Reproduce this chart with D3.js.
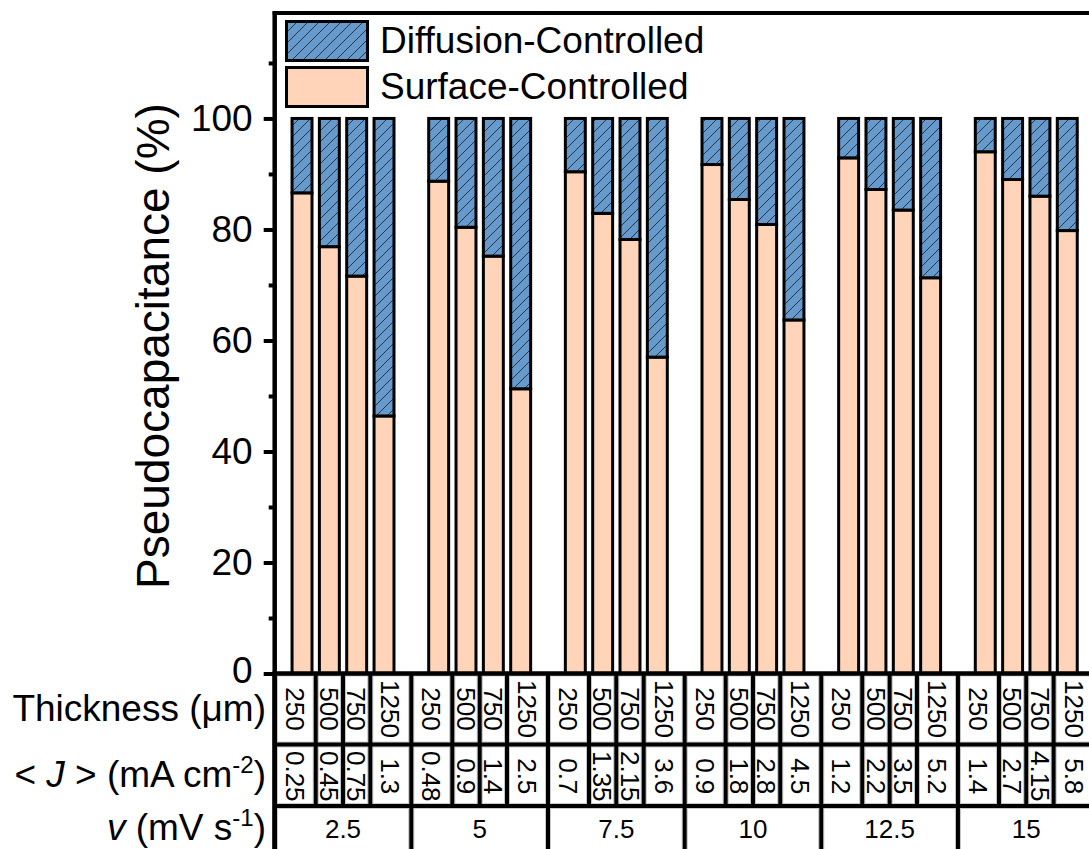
<!DOCTYPE html>
<html>
<head>
<meta charset="utf-8">
<script src="https://cdn.jsdelivr.net/npm/d3@7/dist/d3.min.js"></script>
<style>
  html, body { margin: 0; padding: 0; background: #fff; }
  svg { display: block; font-family: "Liberation Sans", Arial, sans-serif; }
</style>
</head>
<body>
<svg id="chart" width="1089" height="849"></svg>
<script>
// Scan rates (mV/s), one group of bars per rate
const rates = ["2.5", "5", "7.5", "10", "12.5", "15"];
// Electrode thickness (µm), one bar per thickness within each group
const thickness = ["250", "500", "750", "1250"];
// Average current density <J> (mA cm-2) for every bar
const currents = [
  ["0.25", "0.45", "0.75", "1.3"],
  ["0.48", "0.9", "1.4", "2.5"],
  ["0.7", "1.35", "2.15", "3.6"],
  ["0.9", "1.8", "2.8", "4.5"],
  ["1.2", "2.2", "3.5", "5.2"],
  ["1.4", "2.7", "4.15", "5.8"]
];
// Surface-controlled share (%)
const surface = [
  [86.6, 76.9, 71.6, 46.4],
  [88.7, 80.4, 75.2, 51.3],
  [90.4, 82.9, 78.2, 57.0],
  [91.7, 85.4, 80.9, 63.7],
  [92.9, 87.2, 83.5, 71.3],
  [94.0, 89.0, 86.0, 79.8]
];
// Diffusion-controlled share (%)
const diffusion = [
  [13.4, 23.1, 28.4, 53.6],
  [11.3, 19.6, 24.8, 48.7],
  [9.6, 17.1, 21.8, 43.0],
  [8.3, 14.6, 19.1, 36.3],
  [7.1, 12.8, 16.5, 28.7],
  [6.0, 11.0, 14.0, 20.2]
];
const yMajor = [0, 20, 40, 60, 80, 100];
const yMinor = [10, 30, 50, 70, 90, 110];
const seriesNames = ["Diffusion-Controlled", "Surface-Controlled"];

const BLUE = "#6699cc", PEACH = "#ffd4b8";
const svg = d3.select("#chart");

const x = d3.scaleLinear().domain([0, 30]).range([274.7, 1094.6]);
const y = d3.scaleLinear().domain([0, 119]).range([673.5, 13]);

// hatch for the diffusion part
const defs = svg.append("defs");
const pat = defs.append("pattern")
  .attr("id", "hatch").attr("patternUnits", "userSpaceOnUse")
  .attr("width", 11).attr("height", 11);
pat.append("rect").attr("width", 11).attr("height", 11).attr("fill", BLUE);
pat.append("path")
  .attr("d", "M-1,1 L1,-1 M0,11 L11,0 M10,12 L12,10")
  .attr("stroke", "#1a1a1a").attr("stroke-width", 0.8);

// flatten into bar records
const bars = [];
rates.forEach((r, g) => {
  thickness.forEach((t, i) => {
    bars.push({ g, i, p: 5 * g + 1 + i, s: surface[g][i], d: diffusion[g][i] });
  });
});

const barW = x(0.73) - x(0);
const gBars = svg.append("g");
gBars.selectAll("rect.surf").data(bars).join("rect")
  .attr("class", "surf")
  .attr("x", d => x(d.p) - barW / 2)
  .attr("width", barW)
  .attr("y", d => y(d.s))
  .attr("height", d => y(0) - y(d.s))
  .attr("fill", PEACH).attr("stroke", "#000").attr("stroke-width", 3);
gBars.selectAll("rect.diff").data(bars).join("rect")
  .attr("class", "diff")
  .attr("x", d => x(d.p) - barW / 2)
  .attr("width", barW)
  .attr("y", d => y(d.s + d.d))
  .attr("height", d => y(d.s) - y(d.s + d.d))
  .attr("fill", "url(#hatch)").attr("stroke", "#000").attr("stroke-width", 3);

// table beneath the axis
const rowLines = [673.5, 744.5, 806, 875];
const tbl = svg.append("g");
tbl.append("rect")
  .attr("x", x(0) - 2.3).attr("y", rowLines[0] - 2)
  .attr("width", 1089).attr("height", 200).attr("fill", "#000");

function cellBounds(g, i) {
  const b = [0, 1.5, 2.5, 3.5, 5].map(v => v + 5 * g);
  return [b[i], b[i + 1]];
}
const gap = 2.5;
function cell(x0, x1, r) {
  tbl.append("rect")
    .attr("x", x0 + gap).attr("width", x1 - x0 - 2 * gap)
    .attr("y", rowLines[r] + gap).attr("height", rowLines[r + 1] - rowLines[r] - 2 * gap)
    .attr("fill", "#fff").attr("stroke", "#c8c8c8").attr("stroke-width", 1);
}
function vText(str, cx, cy) {
  tbl.append("text")
    .attr("transform", `translate(${cx},${cy}) rotate(90)`)
    .attr("text-anchor", "middle").attr("dy", "0.36em")
    .attr("font-size", 26).text(str);
}
bars.forEach(d => {
  const [a, b] = cellBounds(d.g, d.i);
  const x0 = x(a), x1 = x(b), cx = (x0 + x1) / 2;
  cell(x0, x1, 0);
  cell(x0, x1, 1);
  vText(thickness[d.i], cx, (rowLines[0] + rowLines[1]) / 2);
  vText(currents[d.g][d.i], cx, (rowLines[1] + rowLines[2]) / 2 + 1);
});
rates.forEach((r, g) => {
  const x0 = x(5 * g), x1 = x(5 * g + 5);
  cell(x0, x1, 2);
  tbl.append("text")
    .attr("x", (x0 + x1) / 2).attr("y", 838)
    .attr("text-anchor", "middle").attr("font-size", 26).text(r);
});

// frame: top spine and x baseline
svg.append("line").attr("x1", x(0) - 2).attr("x2", 1089)
  .attr("y1", 13).attr("y2", 13).attr("stroke", "#000").attr("stroke-width", 4);
svg.append("line").attr("x1", x(0) - 2).attr("x2", 1089)
  .attr("y1", y(0)).attr("y2", y(0)).attr("stroke", "#000").attr("stroke-width", 4);

// y axis with major and minor ticks
const yAxis = d3.axisLeft(y).tickValues(yMajor).tickSize(11).tickPadding(11).tickFormat(d3.format("d"));
const gy = svg.append("g").attr("transform", `translate(${x(0)},0)`).call(yAxis);
gy.select(".domain").remove();
gy.selectAll(".tick line").attr("stroke-width", 4);
gy.selectAll(".tick text").attr("font-size", 37).attr("font-family", "Liberation Sans, Arial, sans-serif").attr("fill", "#000");
gy.selectAll(".tick").filter(d => d === 0).select("text").attr("dy", "0.25em");
const yMinorAxis = d3.axisLeft(y).tickValues(yMinor).tickSize(6).tickFormat("");
const gym = svg.append("g").attr("transform", `translate(${x(0)},0)`).call(yMinorAxis);
gym.select(".domain").remove();
gym.selectAll(".tick line").attr("stroke-width", 4);
svg.append("line").attr("x1", x(0)).attr("x2", x(0))
  .attr("y1", 11).attr("y2", 849).attr("stroke", "#000").attr("stroke-width", 4.5);

// y title
svg.append("text")
  .attr("transform", "translate(169,346) rotate(-90)")
  .attr("text-anchor", "middle").attr("font-size", 46)
  .text("Pseudocapacitance (%)");

// row labels of the table
const lab = svg.append("g").attr("font-size", 37).attr("text-anchor", "end");
lab.append("text").attr("x", 266).attr("y", 721).text("Thickness (μm)");
const jl = lab.append("text").attr("x", 266).attr("y", 787);
jl.append("tspan").text("< ");
jl.append("tspan").attr("font-style", "italic").text("J");
jl.append("tspan").text(" > (mA cm");
jl.append("tspan").attr("font-size", 24).attr("dy", -14).text("-2");
jl.append("tspan").attr("dy", 14).text(")");
const vl = lab.append("text").attr("x", 266).attr("y", 840);
vl.append("tspan").attr("font-style", "italic").text("v");
vl.append("tspan").text(" (mV s");
vl.append("tspan").attr("font-size", 24).attr("dy", -14).text("-1");
vl.append("tspan").attr("dy", 14).text(")");

// legend
const leg = svg.append("g");
const legFills = ["url(#hatch)", PEACH];
const legY = [20, 66];
seriesNames.forEach((n, k) => {
  leg.append("rect").attr("x", 286.5).attr("y", legY[k] + 1.5)
    .attr("width", 81).attr("height", 39)
    .attr("fill", legFills[k]).attr("stroke", "#000").attr("stroke-width", 3);
  leg.append("text").attr("x", 380).attr("y", legY[k] + 33)
    .attr("font-size", 37).text(n);
});
</script>
</body>
</html>
